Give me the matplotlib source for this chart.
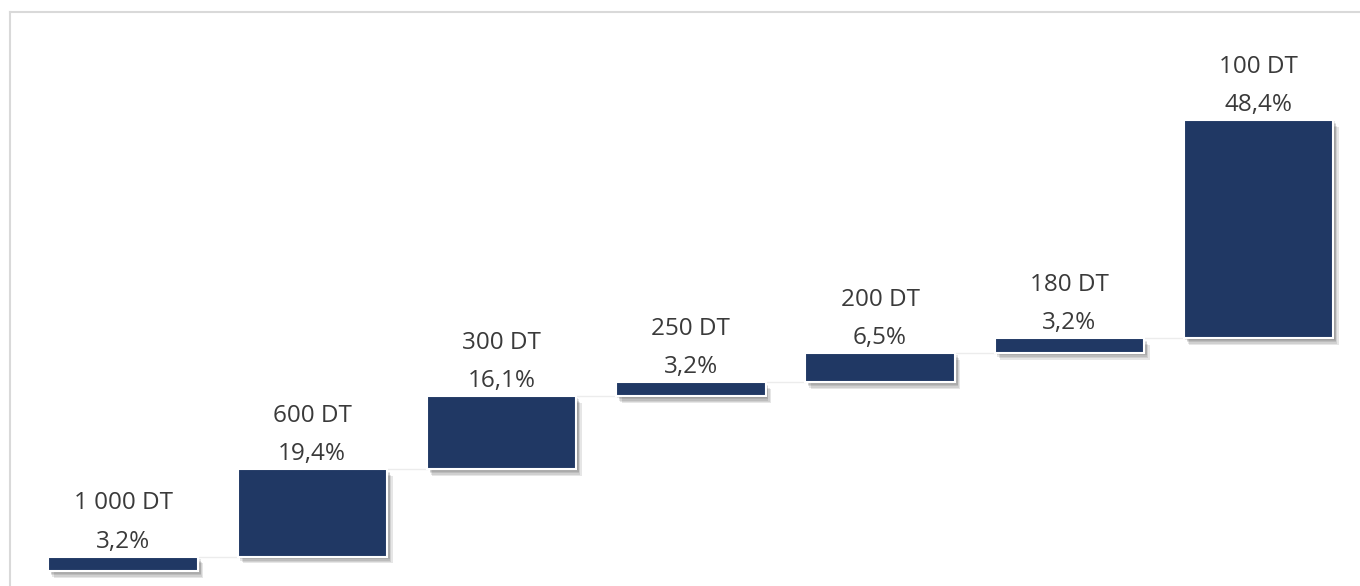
import matplotlib
matplotlib.use('Agg')
import matplotlib.pyplot as plt
import matplotlib.patheffects as pe
from matplotlib.lines import Line2D
import numpy as np

prices = ['1 000 DT', '600 DT', '300 DT', '250 DT', '200 DT', '180 DT', '100 DT']
shares = [3.2, 19.4, 16.1, 3.2, 6.5, 3.2, 48.4]

BAR_COLOR = '#203864'
TEXT_COLOR = '#3a3a3a'

plt.rcParams['font.family'] = ['Open Sans', 'DejaVu Sans']

fig = plt.figure(figsize=(13.6, 5.86), dpi=100)
ax = fig.add_axes([0, 0, 1, 1])

x = np.arange(len(shares))
vals = np.array(shares)
bottoms = np.concatenate([[0], np.cumsum(vals)[:-1]])
tops = bottoms + vals
width = 0.79

# soft shadow: a few stacked offsets with low alpha
shadow = [pe.SimplePatchShadow(offset=(dx, -dy), shadow_rgbFace='#333333', alpha=0.12)
          for dx, dy in [(1, 1), (2, 2), (2, 3), (3, 4), (4, 5)]]
shadow.append(pe.Normal())
bars = ax.bar(x, vals, bottom=bottoms, width=width, color=BAR_COLOR,
              edgecolor='white', linewidth=1.5, zorder=3)
for b in bars:
    b.set_path_effects(shadow)

# faint connectors between steps
for i in range(len(x) - 1):
    ax.plot([x[i] + width / 2, x[i + 1] - width / 2], [tops[i], tops[i]],
            color='#ececec', linewidth=1, zorder=2)

for i in range(len(x)):
    pct = f'{shares[i]:.1f}%'.replace('.', ',')
    ax.annotate(pct, (x[i], tops[i]), xytext=(0, 10.8), textcoords='offset points',
                ha='center', va='center', fontsize=17.5, color=TEXT_COLOR)
    ax.annotate(prices[i], (x[i], tops[i]), xytext=(0, 38.2), textcoords='offset points',
                ha='center', va='center', fontsize=17.5, color=TEXT_COLOR)

# map data to pixel layout of the reference
ax.set_xlim(-0.65, 6.536)
ax.set_ylim(-3.33, 126.6)
ax.axis('off')

# light frame (top and left edges visible)
fig.add_artist(Line2D([10 / 1360, 1], [1 - 12 / 586, 1 - 12 / 586],
                      transform=fig.transFigure, color='#d9d9d9', linewidth=1.5))
fig.add_artist(Line2D([10 / 1360, 10 / 1360], [0, 1 - 12 / 586],
                      transform=fig.transFigure, color='#d9d9d9', linewidth=1.5))

fig.savefig('out.png', dpi=100)
plt.close(fig)
